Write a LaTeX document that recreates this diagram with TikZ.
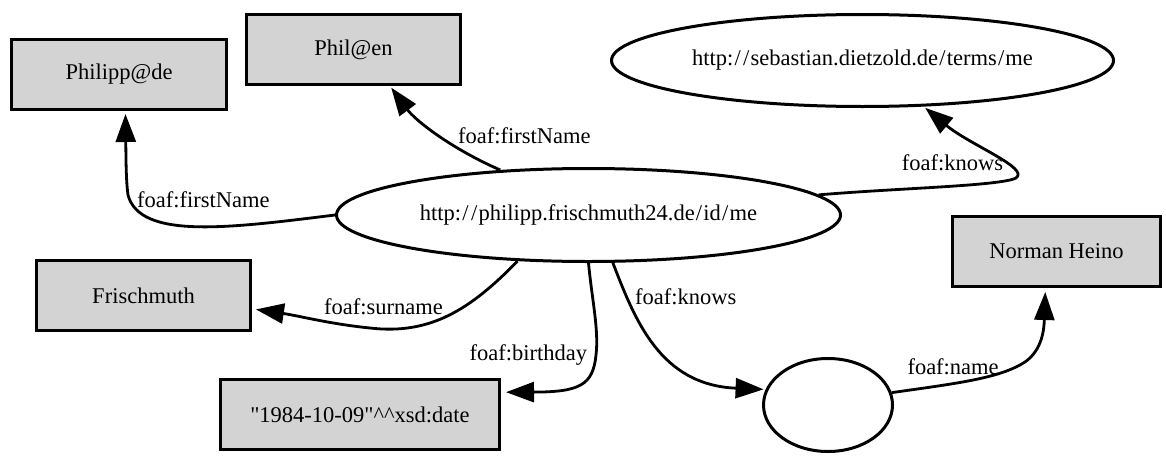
\documentclass[tikz,border=0pt]{standalone}
\usepackage{fontspec}
\setmainfont{Liberation Serif}
\usetikzlibrary{arrows.meta,shapes.geometric}
\definecolor{litgray}{HTML}{D3D3D3}
% slash with a little air on both sides, as in URIs set in book type
\newcommand\urisl{\kern1.2pt/\kern1.2pt}
\begin{document}
\begin{tikzpicture}[x=1pt,y=-1pt,
  font=\fontsize{22.5}{27}\selectfont,
  literal/.style={draw,line width=3pt,fill=litgray,rectangle,inner sep=0pt,minimum height=70pt},
  resource/.style={draw,line width=3pt,fill=white,ellipse,inner sep=0pt},
  prop/.style={line width=2.8pt,-{Triangle[length=28pt,width=20pt]}},
  plabel/.style={anchor=base west,inner sep=0pt}]
\useasboundingbox (0,0) rectangle (1166,455);

% resources and literals
\node[resource,minimum width=504pt,minimum height=93pt] (main) at (588.5,215) {http:\urisl\urisl philipp.frischmuth24.de\urisl id\urisl me};
\node[resource,minimum width=502pt,minimum height=92pt] (seb) at (862.5,60.5) {http:\urisl\urisl sebastian.dietzold.de\urisl terms\urisl me};
\node[resource,minimum width=129pt,minimum height=93pt] (blank) at (828,405) {};
\node[literal,minimum width=215pt] (pde) at (119,74.5) {Philipp@de};
\node[literal,minimum width=214pt] (pen) at (353.5,49.5) {Phil@en};
\node[literal,minimum width=214pt] (fri) at (143.5,295.5) {Frischmuth};
\node[literal,minimum width=279pt] (date) at (360,414.5) {\textquotedbl1984-10-09\textquotedbl\textasciicircum\textasciicircum xsd:date};
\node[literal,minimum width=208pt] (nor) at (1056.5,251.5) {Norman Heino};

% properties
\draw[prop,shorten >=3pt] (main.west) .. controls (230,228) and (140,240) .. (128,195)
  .. controls (126,180) and (126,160) .. (pde.-80);
\draw[prop,shorten >=2pt] (main.153) .. controls (450,148) and (415,120) .. (pen.-45);
\draw[prop,shorten >=2pt] (main.5) .. controls (900,188) and (1000,186) .. (1016,178)
  .. controls (1030,168) and (970,145) .. (seb.-37);
\draw[prop,shorten >=4pt] (main.213) .. controls (470,310) and (430,335) .. (370,328)
  .. controls (330,324) and (300,316) .. (fri.-7);
\draw[prop,shorten >=5pt] (main.south) .. controls (592,300) and (599,330) .. (596,355)
  .. controls (593,385) and (580,392) .. (date.9);
\draw[prop,shorten >=2pt] (main.-63) .. controls (635,320) and (660,385) .. (blank.166);
\draw[prop,shorten >=4pt] (blank.11) .. controls (960,383) and (1000,378) .. (1025,362)
  .. controls (1042,350) and (1044,330) .. (nor.-107);

% property labels
\node[plabel] (l1) at (137,207.5) {foaf:firstName};
\node[plabel] (l2) at (458,143.3) {foaf:firstName};
\node[plabel] (l3) at (901.7,170) {foaf:knows};
\node[plabel] (l4) at (324,314.3) {foaf:surname};
\node[plabel] (l5) at (469.5,360) {foaf:birthday};
\node[plabel] (l6) at (635,304) {foaf:knows};
\node[plabel] (l7) at (907.3,374) {foaf:name};
\end{tikzpicture}
\end{document}
